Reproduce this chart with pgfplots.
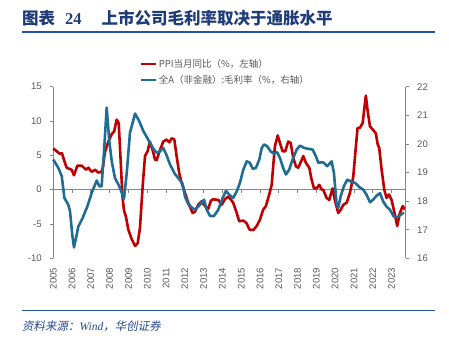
\documentclass[border=0pt]{standalone}
\usepackage{pgfplots}
\pgfplotsset{compat=1.18}
\usepackage{fontspec}
\setmainfont{Liberation Sans}
\newfontfamily\cjk{Noto Sans CJK SC}
\newfontfamily\cjkit[FakeSlant=0.18]{Noto Sans CJK SC}
\newfontfamily\timesf{Liberation Serif}
\definecolor{ppired}{HTML}{C00000}
\definecolor{gmblue}{HTML}{1F6D94}
\definecolor{titleblue}{HTML}{1F3C7A}
\definecolor{ruleblue}{HTML}{2452A0}
\definecolor{srcblue}{HTML}{27488C}
\definecolor{axgray}{HTML}{858585}
\definecolor{txtgray}{HTML}{595959}

\pgfplotstableread{
x y
2005.00 6.0
2005.18 5.6
2005.36 5.2
2005.46 5.3
2005.62 3.9
2005.71 3.2
2005.98 2.9
2006.10 2.1
2006.28 3.5
2006.51 3.5
2006.74 2.9
2006.86 3.2
2007.04 2.6
2007.22 2.9
2007.39 2.5
2007.57 2.6
2007.64 3.3
2007.75 5.5
2007.93 7.0
2008.11 8.1
2008.24 8.5
2008.37 10.2
2008.48 9.7
2008.57 5.0
2008.68 -1.0
2008.76 -3.0
2008.87 -4.0
2008.99 -5.8
2009.17 -7.2
2009.35 -8.2
2009.49 -7.8
2009.61 -5.6
2009.76 0.7
2009.88 4.9
2010.02 5.6
2010.14 7.0
2010.29 5.7
2010.41 4.4
2010.50 4.3
2010.68 5.8
2010.85 7.0
2011.03 7.3
2011.17 6.9
2011.30 7.5
2011.44 7.3
2011.56 4.9
2011.70 2.4
2011.83 1.0
2012.01 -0.5
2012.18 -1.9
2012.41 -3.4
2012.54 -3.2
2012.71 -2.2
2012.89 -1.7
2013.07 -2.4
2013.24 -2.8
2013.39 -1.6
2013.51 -1.4
2013.78 -1.5
2013.96 -2.2
2014.13 -1.4
2014.31 -1.0
2014.49 -1.6
2014.57 -1.9
2014.76 -3.4
2014.89 -4.6
2015.11 -4.5
2015.29 -4.9
2015.43 -5.8
2015.64 -5.9
2015.82 -5.3
2015.99 -4.4
2016.17 -2.9
2016.31 -2.4
2016.49 -0.7
2016.62 0.7
2016.70 3.4
2016.79 6.3
2016.94 7.9
2017.06 6.8
2017.20 5.6
2017.34 5.6
2017.50 7.0
2017.63 6.8
2017.77 4.6
2017.91 3.4
2018.03 3.2
2018.18 4.1
2018.30 4.9
2018.44 3.9
2018.62 3.2
2018.74 1.5
2018.87 0.2
2019.01 0.2
2019.15 0.7
2019.28 0.0
2019.36 0.0
2019.54 -1.2
2019.68 -1.5
2019.86 0.2
2019.98 -1.5
2020.16 -3.4
2020.30 -2.9
2020.43 -2.2
2020.61 -1.9
2020.78 -0.5
2020.96 1.9
2021.10 6.3
2021.19 9.0
2021.31 9.0
2021.46 9.7
2021.54 11.6
2021.63 13.7
2021.72 11.6
2021.85 9.2
2022.02 8.7
2022.16 8.2
2022.26 6.6
2022.34 6.1
2022.47 2.9
2022.61 0.0
2022.73 -1.2
2022.86 -0.7
2023.00 -1.5
2023.14 -3.2
2023.30 -5.3
2023.44 -3.4
2023.59 -2.4
2023.71 -2.9
}\ppitable

\pgfplotstableread{
x y
2005.00 19.45
2005.27 19.16
2005.45 18.87
2005.59 18.11
2005.80 17.87
2005.89 17.64
2006.01 16.82
2006.10 16.38
2006.21 16.71
2006.33 17.11
2006.56 17.41
2006.81 17.81
2007.04 18.28
2007.31 18.72
2007.45 18.52
2007.57 18.52
2007.70 19.74
2007.84 21.27
2007.98 20.09
2008.11 19.39
2008.28 18.81
2008.51 18.52
2008.76 18.08
2008.90 18.93
2009.08 20.39
2009.35 21.06
2009.57 20.80
2009.79 20.45
2010.05 20.15
2010.32 19.83
2010.50 19.69
2010.68 19.74
2010.85 19.86
2011.03 19.60
2011.21 19.28
2011.47 18.95
2011.74 18.73
2011.88 18.60
2012.01 18.15
2012.18 17.90
2012.36 17.78
2012.54 17.70
2012.80 17.87
2013.02 18.05
2013.16 17.70
2013.34 17.48
2013.55 17.48
2013.78 17.70
2014.01 18.11
2014.19 18.36
2014.36 18.22
2014.57 18.11
2014.76 18.34
2014.93 18.64
2015.11 19.10
2015.29 19.39
2015.46 19.34
2015.61 19.13
2015.78 19.16
2015.96 19.45
2016.09 19.86
2016.21 19.98
2016.38 19.92
2016.56 19.74
2016.74 19.66
2016.91 19.71
2017.06 19.51
2017.23 19.16
2017.38 18.93
2017.55 19.10
2017.73 19.45
2017.95 19.80
2018.12 19.94
2018.34 19.86
2018.56 19.83
2018.80 19.80
2018.97 19.57
2019.10 19.34
2019.28 19.36
2019.40 19.34
2019.57 19.22
2019.81 19.39
2019.93 18.99
2020.07 17.93
2020.16 17.76
2020.29 18.17
2020.46 18.52
2020.64 18.75
2020.82 18.69
2021.05 18.64
2021.28 18.49
2021.49 18.40
2021.67 18.22
2021.85 17.96
2022.02 18.05
2022.20 18.19
2022.38 18.28
2022.55 17.99
2022.73 17.81
2022.91 17.70
2023.12 17.46
2023.30 17.44
2023.48 17.52
2023.65 17.60
}\gmtable

\begin{document}
\begin{tikzpicture}
\useasboundingbox (0bp,0bp) rectangle (449bp,-344bp);

% title
\node[anchor=west, inner sep=0pt, text=titleblue] at (22bp,-18.3bp)
  {\fontsize{16.5bp}{19bp}\selectfont\cjk\bfseries 图表\hspace{10bp}{\timesf\bfseries 24}\hspace{20bp}上市公司毛利率取决于通胀水平};
\draw[ruleblue, line width=1.5bp] (22bp,-32bp) -- (435bp,-32bp);
\draw[ruleblue, line width=1.5bp] (22bp,-310.7bp) -- (435bp,-310.7bp);
\node[anchor=west, inner sep=0pt, text=srcblue] at (22bp,-326.7bp)
  {\fontsize{11.5bp}{14bp}\selectfont\cjkit 资料来源：{\timesf\itshape Wind}，华创证券};

\pgfplotsset{
  base/.style={
    at={(53.3bp,-258.3bp)}, anchor=south west,
    scale only axis, width=352.4bp, height=171.6bp,
    xmin=2005, xmax=2023.75,
    tick align=outside, major tick length=3bp,
    every tick/.style={axgray, line width=0.8bp},
    axis line style={axgray, line width=0.9bp},
    /pgf/number format/assume math mode=true,
    /pgf/number format/1000 sep={},
    ticklabel style={text=txtgray, font=\fontsize{9.6bp}{11bp}\selectfont},
    clip=false,
  }
}

% zero line with ticks
\begin{axis}[base,
  ymin=-10, ymax=15,
  axis x line*=middle, axis y line=none,
  x axis line style={-},
  xtick={2005,...,2023}, xticklabels={},
]
\addplot[draw=none] coordinates {(2005,0)};
\end{axis}

% left axis with PPI
\begin{axis}[base,
  ymin=-10, ymax=15,
  axis y line*=left, axis x line*=bottom,
  x axis line style={draw=none},
  xtick={2005,...,2023},
  xtick style={draw=none},
  xticklabel style={rotate=90, anchor=east, xshift=-3bp},
  ytick={-10,-5,0,5,10,15},
  yticklabel style={xshift=-5bp},
]
\addplot[ppired, line width=2.6bp, line join=round] table[x=x,y=y]{\ppitable};
\end{axis}

% right axis with GM
\begin{axis}[base,
  ymin=16, ymax=22,
  axis y line*=right, axis x line=none,
  ytick={16,17,...,22},
  yticklabel style={xshift=5bp},
  legend style={at={(0.246,1.175)}, anchor=north west, draw=none, fill=none,
    inner sep=0pt, font=\fontsize{9.5bp}{11bp}\selectfont\cjk, text=txtgray,
    cells={anchor=west}, row sep=1bp,
    nodes={inner xsep=1bp, inner ysep=2.5bp}},
  legend cell align=left,
  legend image code/.code={\draw[#1] (0bp,0bp) -- (15bp,0bp);},
]
\addlegendimage{ppired, line width=2.6bp}
\addlegendentry{PPI当月同比（\%，左轴）}
\addplot[gmblue, line width=2.6bp, line join=round] table[x=x,y=y]{\gmtable};
\addlegendentry{全A（非金融）:毛利率（\%，右轴）}
\end{axis}
\end{tikzpicture}
\end{document}
